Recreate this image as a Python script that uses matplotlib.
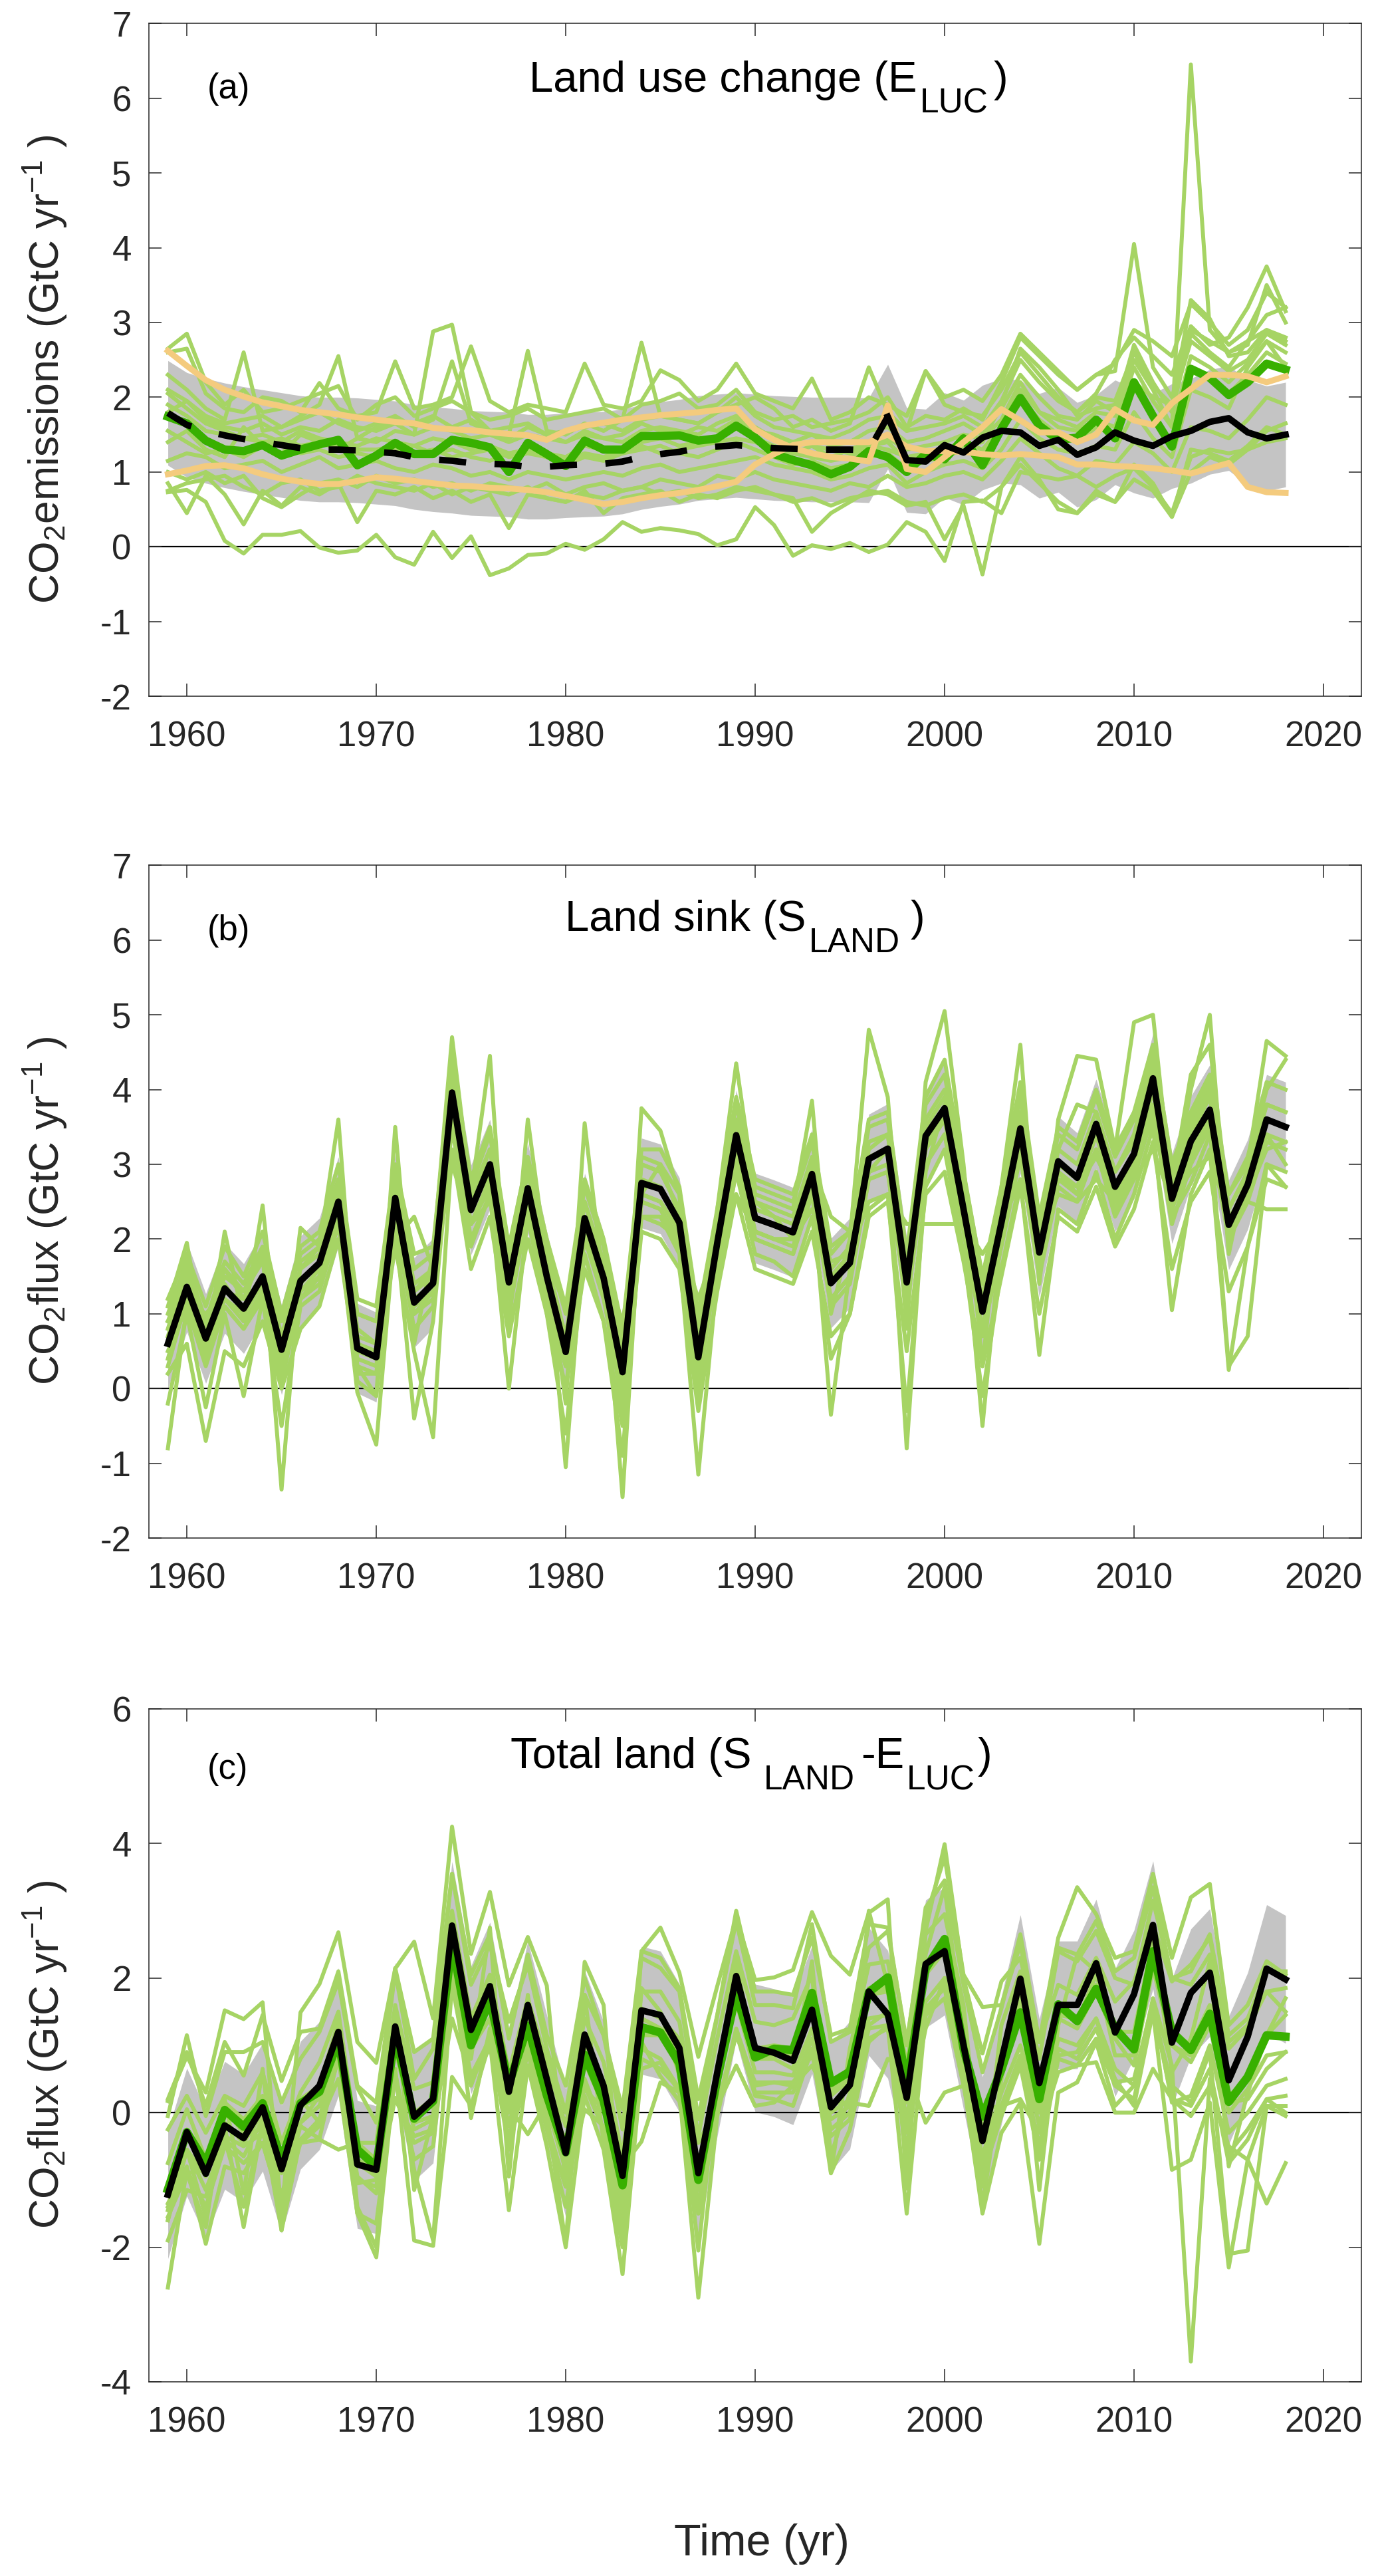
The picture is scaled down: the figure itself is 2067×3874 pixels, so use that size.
import numpy as np
import matplotlib.pyplot as plt

plt.rcParams['font.family'] = ['Liberation Sans', 'DejaVu Sans']
plt.rcParams['mathtext.fontset'] = 'custom'
plt.rcParams['mathtext.rm'] = 'Liberation Sans'
plt.rcParams['mathtext.it'] = 'Liberation Sans:italic'
plt.rcParams['mathtext.bf'] = 'Liberation Sans:bold'
plt.rcParams['axes.unicode_minus'] = False

years = np.arange(1959, 2019)

# ---- (a) land use change emissions, GtC/yr ----
# bookkeeping average (dashed up to 1997, solid after)
eluc_bookkeeping = [1.79,
    1.63, 1.55, 1.49, 1.44, 1.40, 1.36, 1.32, 1.30, 1.30, 1.29,
    1.27, 1.25, 1.20, 1.17, 1.15, 1.12, 1.11, 1.10, 1.07, 1.07,
    1.09, 1.10, 1.11, 1.14, 1.20, 1.24, 1.27, 1.32, 1.34, 1.36,
    1.34, 1.32, 1.31, 1.30, 1.30, 1.30, 1.29, 1.74, 1.16, 1.14,
    1.36, 1.26, 1.46, 1.55, 1.53, 1.35, 1.43, 1.23, 1.33, 1.53,
    1.42, 1.35, 1.48, 1.55, 1.67, 1.72, 1.53, 1.45, 1.50]
# the two bookkeeping models
eluc_bk1 = [2.62,
    2.42, 2.23, 2.10, 2.01, 1.93, 1.88, 1.83, 1.80, 1.77, 1.73,
    1.70, 1.67, 1.65, 1.59, 1.57, 1.56, 1.53, 1.51, 1.49, 1.43,
    1.55, 1.62, 1.66, 1.70, 1.73, 1.76, 1.78, 1.80, 1.83, 1.85,
    1.57, 1.43, 1.32, 1.25, 1.20, 1.18, 1.14, 1.89, 1.04, 1.00,
    1.20, 1.40, 1.60, 1.84, 1.69, 1.53, 1.53, 1.40, 1.50, 1.84,
    1.69, 1.63, 1.92, 2.11, 2.30, 2.30, 2.28, 2.20, 2.28]
eluc_bk2 = [0.97,
    1.02, 1.08, 1.09, 1.05, 0.97, 0.91, 0.87, 0.84, 0.84, 0.88,
    0.93, 0.91, 0.88, 0.85, 0.82, 0.81, 0.79, 0.78, 0.76, 0.73,
    0.68, 0.63, 0.57, 0.60, 0.65, 0.69, 0.72, 0.76, 0.81, 0.87,
    1.10, 1.24, 1.36, 1.40, 1.40, 1.40, 1.40, 1.50, 1.34, 1.28,
    1.28, 1.27, 1.24, 1.22, 1.24, 1.22, 1.20, 1.10, 1.10, 1.08,
    1.07, 1.05, 1.02, 0.98, 1.05, 1.12, 0.80, 0.73, 0.72]
# DGVM multi-model mean
eluc_dgvm_mean = [1.74,
    1.65, 1.42, 1.30, 1.28, 1.36, 1.22, 1.30, 1.37, 1.43, 1.09,
    1.22, 1.39, 1.24, 1.24, 1.43, 1.39, 1.33, 1.00, 1.39, 1.24,
    1.08, 1.42, 1.30, 1.30, 1.48, 1.48, 1.49, 1.42, 1.45, 1.62,
    1.46, 1.24, 1.16, 1.09, 0.97, 1.07, 1.28, 1.20, 1.00, 1.24,
    1.17, 1.45, 1.09, 1.58, 1.99, 1.62, 1.43, 1.46, 1.70, 1.45,
    2.20, 1.75, 1.34, 2.38, 2.26, 2.03, 2.20, 2.45, 2.37]
# individual DGVMs
eluc_dgvm = [
    [0.73, 0.76, 0.60, 0.08, -0.09, 0.16, 0.16, 0.21, -0.01, -0.08, -0.05,
     0.16, -0.14, -0.24, 0.20, -0.15, 0.14, -0.38, -0.29, -0.11, -0.09,
     0.04, -0.04, 0.10, 0.33, 0.20, 0.25, 0.22, 0.17, 0.02, 0.10,
     0.53, 0.29, -0.12, 0.02, -0.03, 0.05, -0.07, 0.03, 0.33, 0.20,
     -0.19, 0.60, 0.62, 0.45, 1.00, 0.95, 0.90, 0.95, 0.80, 0.95,
     1.05, 0.80, 0.45, 1.20, 1.30, 1.25, 1.30, 1.40, 1.45],
    [1.90, 1.75, 1.55, 1.50, 1.45, 1.40, 1.45, 1.35, 1.40, 1.35, 1.30,
     1.30, 1.35, 1.25, 1.30, 1.20, 1.25, 1.30, 1.20, 1.25, 1.20,
     1.15, 1.25, 1.20, 1.30, 1.35, 1.25, 1.30, 1.35, 1.40, 1.45,
     1.40, 1.30, 1.25, 1.35, 1.20, 1.30, 1.40, 1.45, 1.30, 1.35,
     1.40, 1.50, 1.45, 1.70, 2.20, 1.80, 1.70, 1.60, 1.80, 1.75,
     2.50, 2.10, 1.60, 6.45, 2.90, 2.60, 2.75, 3.10, 3.20],
    [2.65, 2.85, 2.20, 1.90, 2.10, 1.80, 1.85, 1.95, 2.05, 2.15, 1.70,
     1.90, 2.00, 1.75, 1.85, 1.95, 1.80, 1.70, 1.75, 1.85, 1.70,
     1.75, 1.80, 1.85, 1.70, 1.90, 1.95, 2.05, 1.85, 1.90, 2.10,
     1.80, 1.70, 1.75, 1.60, 1.65, 1.70, 1.80, 2.00, 1.60, 1.75,
     1.70, 1.85, 1.70, 2.20, 2.80, 2.55, 2.30, 2.10, 2.30, 2.35,
     4.05, 2.40, 2.00, 2.90, 2.75, 2.60, 2.70, 3.50, 3.00],
    [1.40, 1.55, 1.30, 1.20, 1.60, 1.35, 1.25, 1.50, 1.40, 1.30, 1.45,
     1.40, 1.55, 1.50, 2.88, 2.97, 1.80, 1.55, 1.45, 1.60, 1.50,
     1.40, 1.55, 1.45, 1.50, 1.65, 1.55, 1.50, 1.60, 1.55, 1.70,
     1.55, 1.50, 1.40, 1.35, 1.30, 1.25, 1.35, 1.30, 1.20, 1.25,
     1.30, 1.35, 1.40, 1.90, 2.65, 2.40, 2.10, 1.75, 1.85, 1.90,
     2.20, 2.00, 1.90, 3.30, 3.05, 2.55, 2.60, 2.90, 2.75],
    [2.30, 2.10, 1.85, 1.70, 2.60, 1.55, 1.60, 1.75, 1.90, 2.55, 1.45,
     1.60, 1.70, 1.65, 1.75, 1.60, 1.70, 1.55, 1.50, 2.62, 1.55,
     1.50, 1.65, 1.55, 1.70, 2.73, 1.75, 1.70, 1.65, 1.80, 1.90,
     2.00, 1.85, 1.60, 1.70, 1.55, 1.65, 2.40, 1.80, 1.55, 2.35,
     1.90, 1.80, 1.75, 2.10, 2.60, 2.30, 2.00, 1.80, 2.05, 2.50,
     2.80, 2.55, 2.30, 2.95, 2.70, 2.80, 3.20, 3.75, 3.15],
    [0.85, 0.45, 0.95, 0.70, 0.30, 0.75, 0.55, 0.80, 0.70, 0.85, 0.33,
     0.75, 0.70, 0.80, 0.65, 0.75, 0.60, 0.70, 0.25, 0.70, 0.65,
     0.60, 0.75, 0.45, 0.65, 0.70, 0.75, 0.60, 0.70, 0.65, 0.75,
     0.80, 0.70, 0.65, 0.20, 0.45, 0.60, 0.75, 0.70, 0.55, 0.60,
     0.10, 0.55, -0.37, 0.80, 1.10, 0.85, 0.60, 0.45, 0.75, 0.60,
     0.90, 0.75, 0.40, 1.00, 1.20, 1.10, 1.30, 1.55, 1.65],
    [1.15, 1.25, 1.20, 1.05, 1.10, 1.15, 1.00, 1.10, 1.20, 1.05, 1.10,
     1.15, 1.05, 1.00, 1.10, 1.05, 0.95, 1.00, 0.90, 1.00, 0.95,
     0.90, 0.95, 1.00, 0.95, 1.05, 1.10, 1.00, 1.05, 1.10, 1.15,
     1.20, 1.10, 1.05, 1.00, 0.90, 0.95, 1.05, 1.10, 0.85, 1.00,
     1.10, 1.15, 1.05, 1.30, 1.70, 1.45, 1.30, 1.25, 1.35, 1.30,
     1.80, 1.45, 1.20, 2.10, 2.00, 1.85, 2.40, 2.75, 2.40],
    [1.80, 1.95, 1.70, 1.60, 1.55, 1.65, 1.50, 1.60, 1.55, 1.70, 1.60,
     1.55, 1.65, 1.50, 1.60, 1.55, 1.45, 1.50, 1.40, 1.50, 1.45,
     1.40, 1.50, 1.45, 1.40, 1.55, 1.60, 1.55, 1.50, 1.65, 1.75,
     1.60, 1.45, 1.40, 1.50, 1.35, 1.40, 1.55, 1.60, 1.40, 1.45,
     1.55, 1.65, 1.50, 1.85, 2.30, 2.00, 1.75, 1.70, 1.95, 1.80,
     2.70, 2.20, 1.80, 2.85, 2.60, 2.40, 2.75, 2.90, 2.80],
    [1.00, 0.90, 1.00, 0.85, 0.95, 0.65, 0.53, 0.70, 0.85, 0.90, 0.80,
     0.95, 0.85, 0.90, 0.80, 0.85, 0.75, 0.85, 0.80, 0.75, 0.85,
     0.70, 0.80, 0.85, 0.75, 0.80, 0.90, 0.85, 0.80, 0.95, 0.90,
     1.00, 0.90, 0.85, 0.80, 0.75, 0.85, 0.80, 0.95, 0.80, 0.85,
     0.95, 1.00, 0.90, 1.15, 1.45, 1.25, 1.05, 0.95, 1.15, 1.10,
     1.40, 1.25, 1.00, 1.60, 1.55, 1.45, 1.70, 2.00, 1.90],
    [2.60, 2.65, 2.05, 1.85, 1.80, 2.00, 1.95, 1.80, 2.19, 1.85, 1.75,
     1.80, 2.48, 1.85, 1.90, 2.00, 2.68, 1.95, 1.80, 1.90, 1.85,
     1.80, 2.45, 1.90, 1.85, 1.95, 2.36, 2.23, 1.95, 2.10, 2.45,
     2.05, 1.95, 1.85, 2.25, 1.70, 1.80, 2.00, 1.90, 1.75, 2.35,
     2.00, 2.10, 1.95, 2.30, 2.85, 2.60, 2.35, 2.10, 2.30, 2.45,
     2.90, 2.75, 2.55, 3.25, 3.00, 2.70, 2.90, 3.40, 3.20],
    [1.55, 1.40, 1.25, 1.30, 1.20, 1.35, 1.40, 1.25, 1.30, 1.20, 1.25,
     1.20, 1.30, 1.35, 1.25, 1.30, 1.20, 1.15, 1.25, 1.30, 1.20,
     1.10, 1.20, 1.15, 1.25, 1.30, 1.35, 1.25, 1.20, 1.30, 1.40,
     1.30, 1.20, 1.10, 1.15, 1.05, 1.10, 1.20, 1.25, 1.05, 1.15,
     1.20, 1.30, 1.25, 1.55, 2.00, 1.70, 1.50, 1.40, 1.60, 1.50,
     2.20, 1.75, 1.40, 2.40, 2.25, 2.05, 2.30, 2.60, 2.45],
    [2.10, 1.95, 1.75, 1.65, 1.70, 1.75, 1.60, 1.70, 1.80, 1.65, 1.55,
     1.65, 1.75, 1.60, 1.70, 2.48, 1.65, 1.55, 1.60, 1.65, 1.50,
     1.55, 1.60, 1.65, 1.55, 1.70, 1.75, 1.70, 1.65, 1.80, 2.00,
     1.75, 1.60, 1.55, 1.50, 1.45, 1.55, 1.70, 1.75, 1.55, 1.60,
     1.65, 1.75, 1.60, 1.95, 2.50, 2.20, 1.95, 1.80, 2.00, 1.95,
     2.60, 2.15, 1.90, 2.75, 2.55, 2.35, 2.50, 2.85, 2.70],
    [0.75, 0.85, 0.90, 0.95, 0.80, 0.70, 0.85, 0.90, 0.75, 0.80, 0.95,
     0.85, 0.80, 0.75, 0.85, 0.70, 0.80, 0.75, 0.70, 0.80, 0.65,
     0.60, 0.70, 0.65, 0.75, 0.80, 0.70, 0.75, 0.65, 0.70, 0.80,
     0.75, 0.70, 0.60, 0.65, 0.55, 0.65, 0.70, 0.75, 0.60, 0.55,
     0.65, 0.70, 0.60, 0.80, 1.20, 0.90, 0.50, 0.45, 0.70, 0.60,
     1.10, 0.85, 0.40, 1.30, 1.25, 1.15, 1.35, 1.60, 1.50],
    [2.05, 1.85, 1.65, 1.55, 1.45, 1.50, 1.40, 1.55, 1.45, 1.40, 1.35,
     1.45, 1.40, 1.35, 1.45, 1.40, 1.30, 1.35, 1.25, 1.30, 1.25,
     1.20, 1.35, 1.30, 1.25, 1.40, 1.45, 1.35, 1.40, 1.45, 1.65,
     1.45, 1.35, 1.25, 1.20, 1.15, 1.20, 1.35, 1.40, 1.15, 1.25,
     1.30, 1.40, 1.30, 1.60, 2.10, 1.80, 1.60, 1.55, 1.70, 1.60,
     2.40, 1.95, 1.60, 2.55, 2.40, 2.20, 2.45, 2.75, 2.60],
]

# ---- (b) land sink, GtC/yr ----
sland_budget = [0.60,
    1.36, 0.67, 1.34, 1.07, 1.50, 0.52, 1.44, 1.68, 2.50, 0.54,
    0.42, 2.55, 1.15, 1.41, 3.96, 2.39, 3.00, 1.42, 2.68, 1.50,
    0.49, 2.28, 1.48, 0.22, 2.75, 2.67, 2.22, 0.42, 1.95, 3.39,
    2.28, 2.19, 2.09, 2.87, 1.41, 1.68, 3.07, 3.21, 1.42, 3.38,
    3.75, 2.40, 1.03, 2.22, 3.48, 1.82, 3.04, 2.82, 3.54, 2.70,
    3.14, 4.15, 2.54, 3.31, 3.73, 2.19, 2.73, 3.60, 3.50]
sland_dgvm = [
    [0.9, 1.6, 0.9, 1.6, 1.3, 1.8, -1.35, 1.7, 1.9, 2.6, 1.0,
     0.9, 2.0, 2.3, 1.6, 4.1, 2.5, 2.9, 1.6, 2.5, 1.8,
     -1.05, 2.2, 1.7, -1.45, 2.6, 3.0, 2.3, 1.0, 1.9, 3.0,
     2.5, 2.3, 2.0, 3.0, 2.3, 2.1, 2.9, 3.2, -0.8, 2.9,
     3.8, 2.6, 1.5, 2.4, 3.3, 2.0, 2.8, 2.7, 3.1, 2.6,
     3.0, 3.6, 2.4, 3.4, 3.9, 2.3, 2.6, 3.2, 3.3],
    [0.3, 1.2, 0.4, 1.1, 0.8, 1.3, 0.2, 1.2, 1.5, 2.3, 0.3,
     0.2, 2.3, 1.0, 1.2, 3.6, 2.2, 2.7, 1.2, 2.4, 1.3,
     0.3, 2.0, 1.3, 0.0, 2.5, 2.4, 2.0, 0.2, 1.8, 3.1,
     2.0, 1.9, 1.8, 2.6, 1.2, 1.5, 2.8, 2.9, 1.2, 3.0,
     3.4, 2.2, 0.8, 2.0, 3.2, 1.6, 2.8, 2.6, 3.2, 2.4,
     2.9, 3.8, 2.3, 2.75, 3.4, 2.0, 2.5, 3.3, 3.2],
    [1.1, 1.95, 0.5, 2.1, 0.9, 2.45, 0.1, 2.15, 1.9, 3.6, 0.3,
     -0.1, 3.5, 0.6, 1.8, 4.7, 2.6, 4.45, 0.8, 3.6, 1.7,
     -0.2, 3.55, 1.4, -0.3, 3.75, 3.45, 2.6, -0.2, 2.4, 4.35,
     2.6, 2.5, 2.4, 3.85, 1.0, 2.0, 4.8, 3.9, 0.8, 4.1,
     5.05, 3.0, 0.3, 2.7, 4.6, 1.4, 3.6, 4.45, 4.4, 3.2,
     4.9, 5.0, 2.6, 4.0, 5.0, 1.8, 3.0, 4.65, 4.45],
    [-0.2, 1.0, -0.25, 1.0, -0.1, 1.2, -0.5, 1.1, 1.3, 2.2, -0.05,
     -0.75, 2.2, -0.4, 0.9, 3.5, 1.9, 2.6, 0.0, 2.3, 1.0,
     -0.6, 1.8, 0.9, -0.9, 2.3, 2.3, 1.8, -1.15, 1.5, 2.9,
     1.8, 1.7, 1.5, 2.3, 0.4, 1.0, 2.4, 2.6, -0.3, 2.7,
     3.2, 1.8, -0.1, 1.6, 2.8, 0.45, 2.4, 2.2, 2.9, 2.0,
     2.6, 3.5, 1.05, 2.6, 3.2, 0.25, 1.9, 3.0, 2.7],
    [0.9, 1.2, 1.0, 1.3, 1.2, 1.4, 0.9, 1.3, 1.5, 2.0, 1.0,
     0.9, 1.9, 1.3, 1.5, 3.0, 2.2, 2.5, 1.6, 2.3, 1.7,
     1.1, 2.0, 1.6, 0.9, 2.3, 2.2, 2.0, 1.2, 1.9, 2.6,
     2.1, 2.0, 2.0, 2.4, 1.7, 1.8, 2.5, 2.6, 2.2, 2.2,
     2.2, 2.2, 1.8, 2.2, 2.8, 2.0, 2.6, 2.5, 2.8, 2.5,
     2.8, 3.2, 2.5, 2.9, 3.1, 2.3, 2.5, 2.4, 2.4],
    [0.8, 1.6, 0.9, 1.6, 1.2, 1.8, 0.7, 1.6, 1.9, 2.8, 0.7,
     0.6, 2.8, 1.3, 1.6, 4.3, 2.5, 3.2, 1.6, 2.9, 1.6,
     0.6, 2.5, 1.6, 0.4, 3.0, 2.9, 2.4, 0.6, 2.1, 3.6,
     2.4, 2.3, 2.2, 3.0, 1.5, 1.8, 3.2, 3.4, 1.6, 3.5,
     3.9, 2.6, 1.2, 2.4, 3.6, 1.9, 3.2, 3.8, 3.7, 2.9,
     3.3, 4.3, 2.7, 4.2, 4.6, 2.4, 2.9, 3.8, 3.7],
    [0.4, 1.3, 0.5, 1.2, 1.0, 1.4, 0.3, 1.3, 1.6, 2.4, 0.4,
     0.3, 2.4, 1.0, 1.3, 3.8, 2.2, 2.8, 1.2, 2.5, 1.3,
     0.3, 2.1, 1.3, 0.1, 2.6, 2.5, 2.1, 0.2, 1.8, 3.2,
     2.1, 2.0, 1.9, 2.7, 1.2, 1.5, 2.9, 3.0, 1.2, 3.2,
     3.6, 2.2, 0.8, 2.0, 3.3, 1.6, 2.9, 2.6, 3.4, 2.5,
     3.0, 4.0, 2.4, 3.1, 3.6, 2.0, 2.6, 3.4, 3.3],
    [-0.8, 1.1, 0.3, 1.1, 0.8, 1.2, 0.1, 1.2, 1.4, 2.2, 0.1,
     -0.1, 2.2, 0.8, 1.1, 3.6, 2.0, 2.6, 1.0, 2.4, 1.2,
     0.0, 2.0, 1.2, -0.1, 2.5, 2.4, 1.9, 0.0, 1.7, 3.0,
     2.0, 1.9, 1.8, 2.6, 1.1, 1.4, 2.8, 2.9, 1.1, 3.0,
     3.4, 2.1, 0.7, 1.9, 3.1, 1.5, 2.7, 2.5, 3.2, 2.3,
     2.8, 3.7, 2.2, 3.0, 3.5, 0.3, 0.7, 3.0, 2.9],
    [1.2, 1.8, 1.1, 1.9, 1.5, 2.1, 1.0, 1.9, 2.1, 3.0, 1.2,
     1.1, 3.0, 1.8, 1.9, 4.4, 2.8, 3.5, 1.9, 3.1, 2.0,
     1.1, 2.8, 2.0, 0.8, 3.2, 3.2, 2.7, 1.0, 2.4, 3.9,
     2.8, 2.7, 2.6, 3.4, 1.9, 2.1, 3.6, 3.7, 1.8, 3.9,
     4.4, 2.9, 1.5, 2.7, 4.1, 2.3, 3.5, 3.3, 4.0, 3.2,
     3.7, 4.6, 3.0, 3.7, 4.2, 2.6, 3.1, 4.1, 4.0],
    [0.7, 1.5, 0.8, 1.5, 1.3, 1.7, 0.7, 1.6, 1.8, 2.7, 0.8,
     0.6, 2.7, 1.4, 1.6, 4.2, 2.6, 3.2, 1.6, 2.9, 1.7,
     0.7, 2.5, 1.7, 0.5, 3.0, 2.9, 2.4, 0.6, 2.2, 3.6,
     2.5, 2.4, 2.3, 3.1, 1.6, 1.9, 3.3, 3.4, 1.6, 3.6,
     4.0, 2.6, 1.2, 2.4, 3.7, 2.0, 3.2, 3.0, 3.7, 2.9,
     3.4, 4.4, 2.7, 3.5, 4.0, 2.4, 2.9, 3.8, 3.7],
    [0.2, 0.6, -0.7, 0.5, 0.3, 0.9, 0.0, 0.8, 1.1, 2.0, 0.2,
     0.2, 1.9, 0.5, -0.65, 3.2, 1.6, 2.3, 0.7, 2.0, 1.0,
     0.0, 1.6, 0.9, -0.5, 2.1, 2.0, 1.6, -0.3, 1.3, 2.6,
     1.6, 1.5, 1.4, 2.1, 0.7, 1.0, 2.3, 2.5, 0.5, 2.6,
     2.9, 1.7, 0.3, 1.5, 2.7, 1.0, 2.3, 2.1, 2.7, 1.9,
     2.4, 3.3, 1.6, 2.5, 2.9, 1.3, 1.9, 2.8, 2.7],
    [1.0, 1.7, 0.9, 1.7, 1.4, 1.9, 0.9, 1.8, 2.0, 2.8, 1.0,
     0.9, 2.9, 1.6, 1.8, 4.5, 2.7, 3.4, 1.8, 3.0, 1.9,
     1.0, 2.7, 1.9, 0.7, 3.1, 3.0, 2.6, 0.8, 2.3, 3.8,
     2.7, 2.6, 2.5, 3.3, 1.8, 2.1, 3.5, 3.6, 1.7, 3.8,
     4.2, 2.8, 1.4, 2.6, 3.9, 2.2, 3.4, 3.2, 3.9, 3.1,
     3.6, 4.5, 2.9, 3.6, 4.1, 2.6, 3.0, 4.0, 4.4],
    [0.5, 1.1, 0.6, 1.2, 0.9, 1.3, 0.4, 1.2, 1.5, 2.3, 0.5,
     0.4, 2.4, 1.1, 1.3, 3.7, 2.2, 2.8, 1.3, 2.5, 1.4,
     0.4, 2.1, 1.4, 0.1, 2.6, 2.5, 2.1, 0.3, 1.8, 3.2,
     2.1, 2.0, 2.0, 2.7, -0.35, 1.6, 2.9, 3.0, 1.3, 3.2,
     3.6, 2.3, -0.5, 2.1, 3.3, 1.7, 2.9, 2.7, 3.4, 2.6,
     3.0, 4.0, 2.4, 3.2, 3.6, 2.1, 2.6, 3.4, 3.0],
    [0.6, 1.3, 0.7, 1.4, 1.0, 1.5, 0.5, 1.4, 1.7, 2.5, 0.6,
     0.5, 2.5, 1.2, 1.4, 3.9, 2.4, 2.9, 1.4, 2.6, 1.5,
     0.5, 2.3, 1.5, 0.3, 2.8, 2.7, 2.2, 0.5, 2.0, 3.4,
     2.3, 2.2, 2.1, 2.9, 1.4, 1.7, 3.1, 3.2, 1.4, 3.3,
     3.7, 2.4, 1.1, 2.2, 3.5, 1.8, 3.0, 2.8, 3.5, 2.7,
     3.1, 4.1, 2.6, 3.3, 3.7, 2.2, 2.8, 3.6, 3.5],
]

# ---- (c) total land, budget residual, GtC/yr ----
total_residual = [-1.22,
    -0.29, -0.91, -0.19, -0.38, 0.08, -0.84, 0.11, 0.40, 1.20, -0.77,
    -0.85, 1.28, -0.06, 0.20, 2.78, 1.23, 1.88, 0.31, 1.60, 0.50,
    -0.60, 1.16, 0.40, -0.94, 1.52, 1.45, 0.96, -0.90, 0.60, 2.03,
    0.96, 0.89, 0.77, 1.53, 0.08, 0.41, 1.80, 1.46, 0.22, 2.21,
    2.40, 1.00, -0.42, 0.78, 1.99, 0.44, 1.60, 1.60, 2.22, 1.19,
    1.76, 2.79, 1.04, 1.78, 2.08, 0.48, 1.13, 2.14, 1.98]

# 1-sigma uncertainties of the budget terms
eluc_sigma = 0.7
sland_sigma = 0.6
total_sigma = 0.95

LIGHT = '#a6d464'
DARK = '#38b000'
ORANGE = '#f4cb7e'
GREY = '#c4c4c4'
AXC = '#262626'

W, H = 2067, 3874

eluc_bookkeeping = np.array(eluc_bookkeeping)
sland_budget = np.array(sland_budget)
total_residual = np.array(total_residual)
eluc_dgvm = np.array(eluc_dgvm)
sland_dgvm = np.array(sland_dgvm)
total_dgvm = sland_dgvm - eluc_dgvm
total_dgvm_mean = sland_budget - np.array(eluc_dgvm_mean)


def style_axes(ax, ylim, yticks):
    ax.set_xlim(1958, 2022)
    ax.set_ylim(*ylim)
    ax.set_xticks(np.arange(1960, 2021, 10))
    ax.set_yticks(yticks)
    ax.tick_params(direction='in', length=13.7, width=1.1, top=True, right=True,
                   labelsize=38, colors=AXC)
    ax.tick_params(axis='x', pad=26)
    ax.tick_params(axis='y', pad=19)
    for s in ax.spines.values():
        s.set_color(AXC)
        s.set_linewidth(1.1)
    ax.axhline(0, color='k', lw=1.6, zorder=1.5)


def ylabel(fig, y_center_px, s):
    fig.text(88 / W, 1 - y_center_px / H, s, rotation=90, rotation_mode='anchor',
             ha='center', va='baseline', fontsize=45, color=AXC)


def rich_title(fig, x_px, base_px, parts):
    # parts: (text, is_subscript, gap after in px)
    renderer = fig.canvas.get_renderer()
    x = x_px
    for s, sub, gap in parts:
        size = 37 if sub else 47
        y = base_px + 32 if sub else base_px
        t = fig.text(x / W, 1 - y / H, s, fontsize=size, ha='left', va='baseline')
        x = t.get_window_extent(renderer).x1 + gap


fig = plt.figure(figsize=(20.67, 38.74), dpi=100)
left, width, height = 0.1084, 0.8824, 0.2612
ax_a = fig.add_axes([left, 0.7297, width, height])
ax_b = fig.add_axes([left, 0.4029, width, height])
ax_c = fig.add_axes([left, 0.0754, width, height])

# (a)
ax_a.fill_between(years, eluc_bookkeeping - eluc_sigma, eluc_bookkeeping + eluc_sigma,
                  color=GREY, lw=0, zorder=1)
for row in eluc_dgvm:
    ax_a.plot(years, row, color=LIGHT, lw=4.3, zorder=2)
ax_a.plot(years, eluc_dgvm_mean, color=DARK, lw=9.0, zorder=4)
ax_a.plot(years, eluc_bk1, color=ORANGE, lw=6.5, zorder=5)
ax_a.plot(years, eluc_bk2, color=ORANGE, lw=6.5, zorder=5)
ax_a.plot(years[:39], eluc_bookkeeping[:39], color='k', lw=7.0,
          linestyle=(0, (4.2, 4.4)), dash_capstyle='butt', zorder=6)
ax_a.plot(years[38:], eluc_bookkeeping[38:], color='k', lw=7.0, zorder=6)
style_axes(ax_a, (-2, 7), np.arange(-2, 8, 1))
ax_a.text(1961.06, 6.0, '(a)', fontsize=38, ha='left', va='baseline')

# (b)
ax_b.fill_between(years, sland_budget - sland_sigma, sland_budget + sland_sigma,
                  color=GREY, lw=0, zorder=1)
for row in sland_dgvm:
    ax_b.plot(years, row, color=LIGHT, lw=4.3, zorder=2)
ax_b.plot(years, sland_budget, color='k', lw=7.0, zorder=6)
style_axes(ax_b, (-2, 7), np.arange(-2, 8, 1))
ax_b.text(1961.06, 6.0, '(b)', fontsize=38, ha='left', va='baseline')

# (c)
ax_c.fill_between(years, total_residual - total_sigma, total_residual + total_sigma,
                  color=GREY, lw=0, zorder=1)
for row in total_dgvm:
    ax_c.plot(years, row, color=LIGHT, lw=4.3, zorder=2)
ax_c.plot(years, total_dgvm_mean, color=DARK, lw=9.0, zorder=4)
ax_c.plot(years, total_residual, color='k', lw=7.0, zorder=6)
style_axes(ax_c, (-4, 6), np.arange(-4, 7, 2))
ax_c.text(1961.06, 4.96, '(c)', fontsize=38, ha='left', va='baseline')

# titles with large, low subscripts
rich_title(fig, 796, 138, [('Land use change (E', False, 4), ('LUC', True, 8), (')', False, 0)])
rich_title(fig, 850, 1400, [('Land sink (S', False, 4), ('LAND', True, 16), (')', False, 0)])
rich_title(fig, 768, 2659, [('Total land (S', False, 18), ('LAND', True, 10), ('-E', False, 3),
                            ('LUC', True, 4), (')', False, 0)])

ylabel(fig, 555, r'CO$_2$emissions (GtC yr$^{-1}$ )')
ylabel(fig, 1821, r'CO$_2$flux (GtC yr$^{-1}$ )')
ylabel(fig, 3090, r'CO$_2$flux (GtC yr$^{-1}$ )')

fig.text(1146 / W, 1 - 3843 / H, 'Time (yr)', fontsize=48, color=AXC,
         ha='center', va='baseline')

fig.savefig('out.png', dpi=100)
plt.close(fig)
